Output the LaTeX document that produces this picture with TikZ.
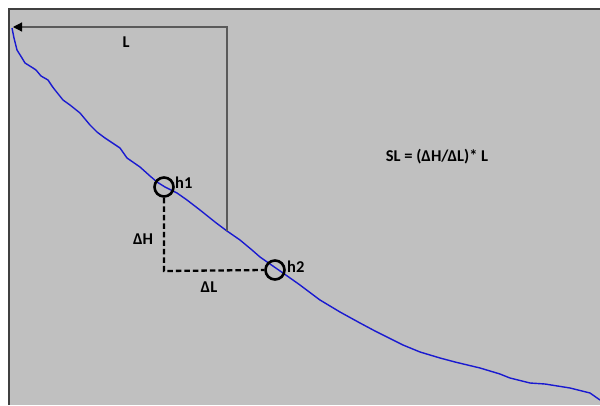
\documentclass[tikz,border=0pt]{standalone}
\usepackage{fontspec}
\setmainfont{Carlito}
\usetikzlibrary{arrows.meta}
\definecolor{bggray}{HTML}{C0C0C0}
\definecolor{framegray}{HTML}{404040}
\definecolor{linegray}{HTML}{5A5A5A}
\definecolor{curveblue}{HTML}{1A1AD0}
\begin{document}
\begin{tikzpicture}[x=1pt,y=-1pt,
  lbl/.style={font=\bfseries\fontsize{16.5}{19}\selectfont, text=black, inner sep=0pt},
  ring/.style={circle, draw=black, line width=2.6pt, minimum size=19pt, inner sep=0pt},
  dim/.style={draw=black, line width=2.3pt, dash pattern=on 5.5pt off 3pt},
  guide/.style={draw=linegray, line width=1.2pt}]
\useasboundingbox (0,0) rectangle (600,405);
\fill[white] (0,0) rectangle (600,405);
\fill[bggray] (9,9) rectangle (600,405);
\draw[framegray, line width=2pt] (9,405) -- (9,9) -- (600,9);
% curve
\draw[curveblue, line width=1.4pt, line join=round] plot coordinates {
(12,28) (14,38) (17,50) (22,58) (25,63) (33,68) (36,70) (41,76) (48,80) (52,86) (55,90)
(63,100) (70,105) (80,113) (90,125) (97,132) (105,138) (120,148) (127,158) (140,167)
(150,176) (157,182) (165,187) (177,193) (187,200) (200,210) (215,222) (227,231) (240,240)
(252,250) (260,257) (270,264) (283,273) (300,285) (320,300) (340,312) (360,323) (375,331)
(387,337) (403,345) (420,352) (440,358) (455,362) (480,368) (500,374) (510,378) (530,383)
(545,384) (570,388) (590,393) (600,400)};
% L guide
\coordinate (tip) at (13,27);
\coordinate (corner) at (227,27);
\coordinate (foot) at (227,231);
\draw[guide, -{Triangle[length=9pt,width=9pt,color=black,fill=black]}] (foot) -- (corner) -- (tip);
\node[lbl] (Llab) at (126,42) {L};
% rings
\node[ring] (h1c) at (164,187) {};
\node[ring] (h2c) at (275,270) {};
\node[lbl, anchor=west] (h1) at (175,183) {h1};
\node[lbl, anchor=west] (h2) at (287,267) {h2};
\coordinate (dcorner) at (164,271);
\draw[dim] (h1c.south) -- (dcorner) -- (h2c.west);
\node[lbl] (dH) at (143,239) {ΔH};
\node[lbl] (dL) at (209,287) {ΔL};
\node[lbl] (form) at (437,157) {SL = (ΔH/ΔL)* L};
\end{tikzpicture}
\end{document}
